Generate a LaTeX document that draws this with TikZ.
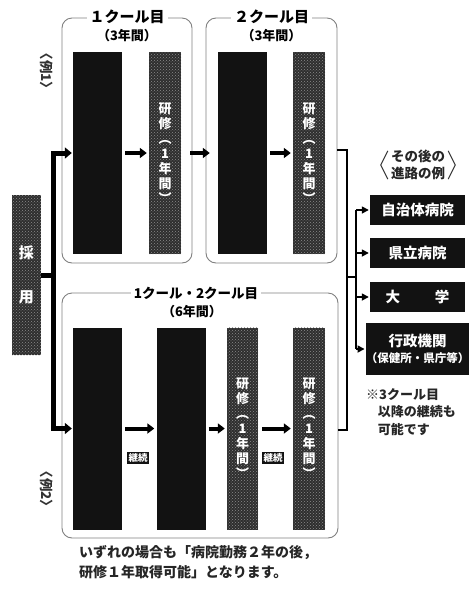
\documentclass[tikz,border=0pt]{standalone}
\usepackage{fontspec}
\newfontfamily\cjk{Noto Sans CJK JP}
\usetikzlibrary{arrows.meta,patterns}
\begin{document}
\begin{tikzpicture}[x=1pt,y=-1pt,
  every node/.style={font=\cjk},
  grp/.style={draw=black!50, line width=0.9pt, rounded corners=10pt, inner sep=0pt},
  ttl/.style={fill=white, inner xsep=3pt, inner ysep=1pt, font=\cjk\bfseries\fontsize{15}{17}\selectfont},
  sub/.style={inner sep=0pt, font=\cjk\bfseries\fontsize{13}{15}\selectfont},
  work/.style={fill=black!93, inner sep=0pt, minimum width=49pt, minimum height=202pt},
  study/.style={fill=black!82, postaction={pattern=crosshatch dots, pattern color=black!45},
    inner sep=0pt, minimum width=32pt, minimum height=202pt, text=white, align=center,
    font=\cjk\bfseries\fontsize{13}{15}\selectfont},
  hirebox/.style={fill=black!82, postaction={pattern=crosshatch dots, pattern color=black!45},
    inner sep=0pt, minimum width=29pt, minimum height=160pt, text=white, align=center,
    font=\cjk\bfseries\fontsize{15}{44}\selectfont},
  dest/.style={fill=black!93, text=white, inner sep=0pt, minimum width=95pt, align=center,
    font=\cjk\bfseries\fontsize{14.5}{17}\selectfont},
  tag/.style={fill=black!93, text=white, inner sep=1.5pt, font=\cjk\bfseries\fontsize{9.5}{11}\selectfont},
  arr/.style={line width=4pt, -{Triangle[length=7pt,width=10pt]}},
  lbar/.style={line width=5pt, line join=miter, {Triangle[length=7pt,width=11pt]}-{Triangle[length=7pt,width=11pt]}},
  bar/.style={line width=5pt},
  brk/.style={line width=2.5pt, line join=miter},
  darr/.style={line width=1.6pt, -{Triangle[length=7pt,width=7pt]}},
  lbl/.style={inner sep=0pt, font=\cjk\bfseries\fontsize{13.5}{15}\selectfont, text=black!80},
  note/.style={inner sep=0pt, align=left, font=\cjk\bfseries\fontsize{13}{17.5}\selectfont, text=black!85}
]
\useasboundingbox (0,0) rectangle (473,590);

% group boxes
\node[grp, minimum width=130pt, minimum height=245pt] (g1) at (127,140.5) {};
\node[grp, minimum width=131pt, minimum height=245pt] (g2) at (271.5,140.5) {};
\node[grp, minimum width=276pt, minimum height=245pt] (g3) at (200,415.5) {};

\node[ttl] (t1) at (127,17) {１クール目};
\node[sub] (s1) at (127,36) {（3年間）};
\node[ttl] (t2) at (271.5,17) {２クール目};
\node[sub] (s2) at (271.5,36) {（3年間）};
\node[ttl, font=\cjk\bfseries\fontsize{13.5}{16}\selectfont] (t3) at (196,293) {1クール・2クール目};
\node[sub] (s3) at (192,312) {（6年間）};

% example labels
\node[lbl, rotate=-90] (ex1) at (47,71) {〈例1〉};
\node[lbl, rotate=-90] (ex2) at (47,489) {〈例2〉};

% example 1 columns
\node[work] (w1) at (97.5,153) {};
\node[study] (r1) at (165,153) {研\\修\\︵\\1\\年\\間\\︶};
\node[work] (w2) at (242.5,153) {};
\node[study] (r2) at (309,153) {研\\修\\︵\\1\\年\\間\\︶};

% example 2 columns
\node[work] (w3) at (97.5,428.5) {};
\node[work] (w4) at (181,428.5) {};
\node[study, minimum width=31pt] (r3) at (242.5,428.5) {研\\修\\︵\\1\\年\\間\\︶};
\node[study] (r4) at (309,428.5) {研\\修\\︵\\1\\年\\間\\︶};

% arrows inside groups
\draw[arr] ([xshift=3pt]w1.east) -- ([xshift=-2pt]r1.west);
\draw[arr] ([xshift=9pt]r1.east) -- ([xshift=-8pt]w2.west);
\draw[arr] ([xshift=3pt]w2.east) -- ([xshift=-2pt]r2.west);
\draw[arr] ([xshift=3pt]w3.east) -- ([xshift=-2pt]w4.west);
\draw[arr] ([xshift=3pt]w4.east) -- ([xshift=-2pt]r3.west);
\draw[arr] ([xshift=4pt]r3.east) -- ([xshift=-2pt]r4.west);

\node[tag] (k1) at (138,458) {継続};
\node[tag] (k2) at (273,458) {継続};

% hiring
\node[hirebox] (hire) at (26.5,275) {採\\用};
\coordinate (j) at (53,275);
\draw[bar] (hire.east) -- (j);
\draw[lbar] ([xshift=-1pt]w1.west) -| (j) |- ([xshift=-1pt]w3.west);

% right bracket
\coordinate (bt) at (347,150);
\coordinate (bb) at (347,430);
\coordinate (bm) at (347,277);
\coordinate (bx) at (356,277);
\draw[brk] (g2.east |- bt) -- (bt) -- (bb) -- (g3.east |- bb);
\draw[brk] (bm) -- (bx);

% destinations
\node[dest, minimum height=30pt] (d1) at (417.5,210) {自治体病院};
\node[dest, minimum height=30pt] (d2) at (417.5,253) {県立病院};
\node[dest, minimum height=30pt] (d3) at (417.5,297) {大\hspace{2.4em}学};
\node[dest, minimum height=52pt] (d4) at (417.5,349) {行政機関\\[-1pt]{\fontsize{11.5}{13}\selectfont （保健所・県庁等）}};

\draw[line width=1.6pt] (bx |- d1.west) -- (bx |- d4.west);
\draw[darr] (bx |- d1.west) -- ([xshift=-1pt]d1.west);
\draw[darr] (bx |- d2.west) -- ([xshift=-1pt]d2.west);
\draw[darr] (bx |- d3.west) -- ([xshift=-1pt]d3.west);
\draw[darr] (bx |- d4.west) -- ([xshift=-1pt]d4.west);

% heading of destinations
\node[inner sep=0pt, align=center, font=\cjk\bfseries\fontsize{13.5}{17}\selectfont, text=black!85] (hd) at (418,165) {その後の\\進路の例};
\draw[line width=1pt, black!80] ([xshift=-3pt,yshift=-1pt]hd.north west) -- ([xshift=-10pt]hd.west) -- ([xshift=-3pt,yshift=1pt]hd.south west);
\draw[line width=1pt, black!80] ([xshift=3pt,yshift=-1pt]hd.north east) -- ([xshift=10pt]hd.east) -- ([xshift=3pt,yshift=1pt]hd.south east);

% note
\node[note, anchor=north west] (nt) at (366,388) {※3クール目\\\hspace{0.9em}以降の継続も\\\hspace{0.9em}可能です};

% footer
\node[inner sep=0pt, anchor=north west, align=left, font=\cjk\bfseries\fontsize{14}{20}\selectfont, text=black!85] (ft) at (79,545) {いずれの場合も「病院勤務２年の後，\\研修１年取得可能」となります。};
\end{tikzpicture}
\end{document}
